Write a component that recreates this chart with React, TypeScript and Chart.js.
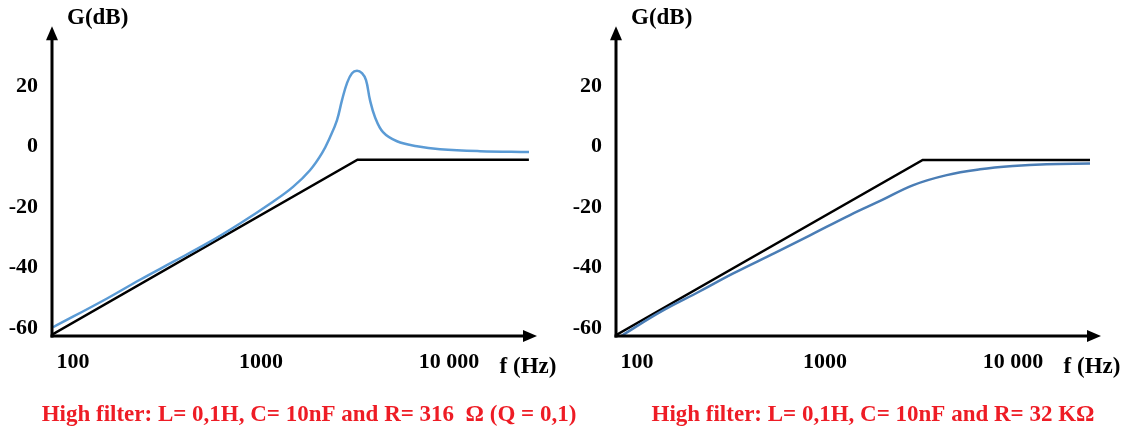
import React, { useEffect, useRef } from "react";
import { Chart, registerables } from "chart.js";

Chart.register(...registerables);

// ---- Data ----
const FREQ_TICKS = [100, 1000, 10000];
const FREQ_TICK_LABELS = ["100", "1000", "10 000"];
const GAIN_TICKS = [-60, -40, -20, 0, 20];

// Left panel: R = 316 Ω
const LEFT_ASYMPTOTE_F = [77.3, 3260, 26600];
const LEFT_ASYMPTOTE_DB = [-62.2, -4.3, -4.3];
const LEFT_RESPONSE_F = [78.3, 151.7, 227, 340, 516, 773, 1158, 1480, 1822, 2111, 2328, 2537, 2697, 2867, 3048, 3241, 3444, 3619, 3800, 4041, 4456, 5288, 6757, 8956, 14620, 26640];
const LEFT_RESPONSE_DB = [-59.7, -50.2, -44.0, -38.1, -32.0, -25.4, -18.2, -13.3, -7.8, -2.15, 3.1, 8.8, 15.4, 21.0, 24.3, 25.1, 24.3, 22.0, 15.4, 9.75, 4.8, 1.8, 0.17, -0.83, -1.5, -1.8];

// Right panel: R = 32 kΩ
const RIGHT_ASYMPTOTE_F = [77.3, 3309, 25680];
const RIGHT_ASYMPTOTE_DB = [-62.3, -4.4, -4.4];
const RIGHT_RESPONSE_F = [82.9, 132.5, 216, 325, 542, 832, 1358, 2003, 2949, 4440, 6675, 10000, 15110, 25680];
const RIGHT_RESPONSE_DB = [-62.5, -54.7, -47.8, -41.9, -35.1, -29.3, -22.6, -17.7, -12.7, -9.4, -7.5, -6.4, -5.8, -5.55];

const LEFT_CAPTION = "High filter: L= 0,1H, C= 10nF and R= 316  Ω (Q = 0,1)";
const RIGHT_CAPTION = "High filter: L= 0,1H, C= 10nF and R= 32 KΩ";

// ---- Axis ranges ----
const X_MIN = 77.3;
const X_MAX = 29025;
const Y_MIN = -62.6;
const Y_MAX = 39.5;

const SERIF = '"Liberation Serif", "Times New Roman", serif';
const CANVAS_W = 600;

type PanelCfg = {
  asymF: number[];
  asymDb: number[];
  respF: number[];
  respDb: number[];
  respColor: string;
  caption: string;
};

function makeChart(canvas: HTMLCanvasElement, cfg: PanelCfg) {
  const toPts = (f: number[], d: number[]) => f.map((x, i) => ({ x, y: d[i] }));

  const annotate = {
    id: "annotate",
    afterDraw(chart: any) {
      const ctx = chart.ctx as CanvasRenderingContext2D;
      const { left, right, top, bottom } = chart.chartArea;
      ctx.save();
      ctx.strokeStyle = "#000";
      ctx.fillStyle = "#000";
      ctx.lineWidth = 3;
      ctx.lineCap = "butt";
      // y axis
      ctx.beginPath();
      ctx.moveTo(left, bottom + 1.5);
      ctx.lineTo(left, top + 10);
      ctx.stroke();
      ctx.beginPath();
      ctx.moveTo(left, top - 1);
      ctx.lineTo(left - 6, top + 13);
      ctx.lineTo(left + 6, top + 13);
      ctx.closePath();
      ctx.fill();
      // x axis
      ctx.beginPath();
      ctx.moveTo(left - 1.5, bottom);
      ctx.lineTo(right - 10, bottom);
      ctx.stroke();
      ctx.beginPath();
      ctx.moveTo(right + 1, bottom);
      ctx.lineTo(right - 13, bottom - 6);
      ctx.lineTo(right - 13, bottom + 6);
      ctx.closePath();
      ctx.fill();
      // axis titles
      ctx.font = `bold 23px ${SERIF}`;
      ctx.textBaseline = "middle";
      ctx.textAlign = "left";
      ctx.fillText("G(dB)", 67, 18);
      ctx.textAlign = "center";
      ctx.fillText("f (Hz)", 528, 367);
      // caption
      ctx.fillStyle = "#ee1c25";
      ctx.font = `bold 23px ${SERIF}`;
      ctx.fillText(cfg.caption, 309, 415);
      ctx.restore();
    },
  };

  const tickFont = { family: SERIF, size: 22, weight: "bold" as const };

  return new Chart(canvas, {
    type: "line",
    data: {
      datasets: [
        {
          data: toPts(cfg.respF, cfg.respDb),
          borderColor: cfg.respColor,
          borderWidth: 2.5,
          pointRadius: 0,
          tension: 0.4,
          fill: false,
        },
        {
          data: toPts(cfg.asymF, cfg.asymDb),
          borderColor: "#000",
          borderWidth: 2.5,
          pointRadius: 0,
          tension: 0,
          fill: false,
        },
      ],
    },
    options: {
      animation: false,
      responsive: false,
      devicePixelRatio: 1,
      layout: { padding: { top: 27, right: CANVAS_W - 536, left: 0, bottom: 0 } },
      plugins: {
        legend: { display: false },
        tooltip: { enabled: false },
        title: { display: false },
      },
      scales: {
        x: {
          type: "logarithmic",
          min: X_MIN,
          max: X_MAX,
          grid: { display: false, drawTicks: false },
          border: { display: false },
          afterBuildTicks: (s: any) => {
            s.ticks = FREQ_TICKS.map((v) => ({ value: v }));
          },
          afterFit: (s: any) => {
            s.height = 97;
          },
          ticks: {
            autoSkip: false,
            maxRotation: 0,
            padding: 13,
            color: "#000",
            font: tickFont,
            callback: (v: any) => {
              const i = FREQ_TICKS.indexOf(Number(v));
              return i >= 0 ? FREQ_TICK_LABELS[i] : "";
            },
          },
        },
        y: {
          type: "linear",
          min: Y_MIN,
          max: Y_MAX,
          grid: { display: false, drawTicks: false },
          border: { display: false },
          afterBuildTicks: (s: any) => {
            s.ticks = GAIN_TICKS.map((v) => ({ value: v }));
          },
          afterFit: (s: any) => {
            s.width = 52;
          },
          ticks: {
            padding: 14,
            color: "#000",
            font: tickFont,
            callback: (v: any) => String(v),
          },
        },
      },
    } as any,
    plugins: [annotate],
  });
}

export default function App() {
  const leftRef = useRef<HTMLCanvasElement>(null);
  const rightRef = useRef<HTMLCanvasElement>(null);

  useEffect(() => {
    const charts: Chart[] = [];
    if (leftRef.current) {
      charts.push(
        makeChart(leftRef.current, {
          asymF: LEFT_ASYMPTOTE_F,
          asymDb: LEFT_ASYMPTOTE_DB,
          respF: LEFT_RESPONSE_F,
          respDb: LEFT_RESPONSE_DB,
          respColor: "#5b9bd5",
          caption: LEFT_CAPTION,
        })
      );
    }
    if (rightRef.current) {
      charts.push(
        makeChart(rightRef.current, {
          asymF: RIGHT_ASYMPTOTE_F,
          asymDb: RIGHT_ASYMPTOTE_DB,
          respF: RIGHT_RESPONSE_F,
          respDb: RIGHT_RESPONSE_DB,
          respColor: "#4a7db5",
          caption: RIGHT_CAPTION,
        })
      );
    }
    return () => charts.forEach((c) => c.destroy());
  }, []);

  return (
    <div style={{ position: "absolute", left: 0, top: 0, width: 1129, height: 433, background: "#fff", overflow: "hidden" }}>
      <canvas ref={leftRef} width={CANVAS_W} height={433} style={{ position: "absolute", left: 0, top: 0, width: CANVAS_W, height: 433 }} />
      <canvas ref={rightRef} width={CANVAS_W} height={433} style={{ position: "absolute", left: 564, top: 0, width: CANVAS_W, height: 433 }} />
    </div>
  );
}
